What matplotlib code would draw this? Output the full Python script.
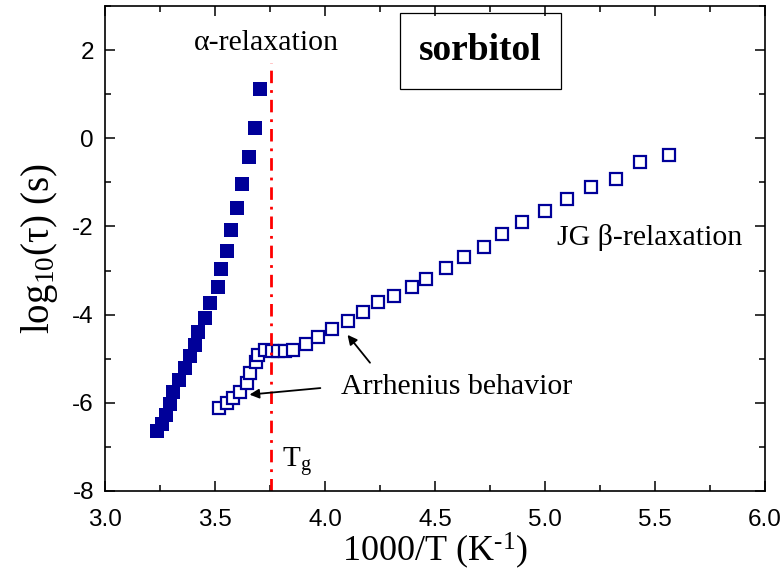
import numpy as np
import matplotlib
matplotlib.use('Agg')
import matplotlib.pyplot as plt
from matplotlib.patches import Rectangle
from matplotlib.ticker import MultipleLocator

plt.rcParams['mathtext.fontset'] = 'custom'
plt.rcParams['mathtext.rm'] = 'Liberation Serif'
plt.rcParams['mathtext.it'] = 'Liberation Serif:italic'

# alpha-relaxation (filled squares)
alpha_x = [3.238, 3.259, 3.276, 3.297, 3.310, 3.335, 3.365, 3.386, 3.408, 3.423,
           3.453, 3.475, 3.512, 3.526, 3.556, 3.571, 3.601, 3.623, 3.653, 3.683, 3.705]
alpha_y = [-6.63, -6.47, -6.28, -6.03, -5.75, -5.48, -5.22, -4.94, -4.69, -4.39,
           -4.07, -3.73, -3.37, -2.96, -2.55, -2.09, -1.59, -1.03, -0.43, 0.24, 1.12]

# JG beta-relaxation (open squares)
beta_x = [3.520, 3.556, 3.583, 3.614, 3.644, 3.659, 3.686, 3.697, 3.727, 3.758,
          3.788, 3.818, 3.856, 3.914, 3.970, 4.033, 4.106, 4.171, 4.239, 4.311,
          4.394, 4.459, 4.549, 4.632, 4.720, 4.806, 4.897, 5.000, 5.098, 5.209,
          5.320, 5.432, 5.565]
beta_y = [-6.12, -6.00, -5.88, -5.75, -5.56, -5.33, -5.07, -4.92, -4.80, -4.82,
          -4.82, -4.82, -4.80, -4.67, -4.51, -4.33, -4.15, -3.95, -3.72, -3.57,
          -3.37, -3.19, -2.95, -2.69, -2.46, -2.18, -1.91, -1.65, -1.38, -1.10,
          -0.92, -0.53, -0.38]

Tg = 3.755
col = '#000099'
serif = 'Liberation Serif'

fig = plt.figure(figsize=(7.84, 5.76), dpi=100)
ax = fig.add_axes([0.134, 0.1476, 0.842, 0.842])

ax.plot(alpha_x, alpha_y, 's', color=col, markersize=10.5, markeredgewidth=0)
ax.plot(beta_x, beta_y, 's', markerfacecolor='white', markeredgecolor=col,
        markersize=9, markeredgewidth=1.6)

ax.plot([Tg, Tg], [-8, 1.7], color='red', lw=2, linestyle=(0, (4.5, 2.5, 1, 2.5)))

ax.set_xlim(3.0, 6.0)
ax.set_ylim(-8, 3)
ax.xaxis.set_major_locator(MultipleLocator(0.5))
ax.xaxis.set_minor_locator(MultipleLocator(0.25))
ax.yaxis.set_major_locator(MultipleLocator(2))
ax.yaxis.set_minor_locator(MultipleLocator(1))
ax.tick_params(which='both', direction='in', top=True, right=True,
               labeltop=False, labelright=False, width=1.1)
ax.tick_params(which='major', length=7, labelsize=17.5)
ax.tick_params(axis='x', which='major', pad=13)
ax.tick_params(axis='y', which='major', pad=8)
ax.tick_params(which='minor', length=4.5)
ax.set_xticks([3.0, 3.5, 4.0, 4.5, 5.0, 5.5, 6.0])
ax.set_xticklabels(['3.0', '3.5', '4.0', '4.5', '5.0', '5.5', '6.0'],
                   fontfamily='Liberation Sans')
ax.set_yticks([2, 0, -2, -4, -6, -8])
ax.set_yticklabels(['2', '0', '-2', '-4', '-6', '-8'], fontfamily='Liberation Sans')
for s in ax.spines.values():
    s.set_linewidth(1.2)

ax.set_xlabel(r'1000/T (K$^{\text{-1}}$)', fontsize=26, fontfamily=serif, labelpad=0)
ax.set_ylabel(r'log$_{\mathrm{10}}$(τ) (s)', fontsize=28, fontfamily=serif, labelpad=9)

ax.text(3.732, 2.16, 'α-relaxation', fontsize=21.5, fontfamily=serif,
        ha='center', va='center')
ax.text(5.055, -2.24, 'JG β-relaxation', fontsize=21.5, fontfamily=serif,
        ha='left', va='center')
ax.text(3.805, -7.45, r'$\mathrm{T}_{\mathrm{g}}$', fontsize=21, fontfamily=serif,
        ha='left', va='baseline')
ax.text(4.073, -5.64, 'Arrhenius behavior', fontsize=21.5, fontfamily=serif,
        ha='left', va='center')

ax.annotate('', xy=(3.644, -5.82), xytext=(3.991, -5.66),
            arrowprops=dict(arrowstyle='-|>', color='black', lw=1.3, mutation_scale=14))
ax.annotate('', xy=(4.094, -4.41), xytext=(4.212, -5.14),
            arrowprops=dict(arrowstyle='-|>', color='black', lw=1.3, mutation_scale=14))

ax.add_patch(Rectangle((0.4468, 0.829), 0.2439, 0.157, transform=ax.transAxes,
                       fill=False, edgecolor='black', lw=0.9))
ax.text(0.5689, 0.9075, 'sorbitol', transform=ax.transAxes, fontsize=27,
        fontweight='bold', fontfamily=serif, ha='center', va='center')

fig.savefig('out.png', dpi=100)
